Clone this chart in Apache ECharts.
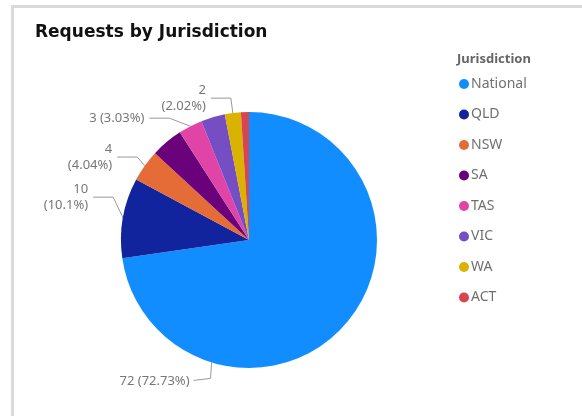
<!DOCTYPE html>
<html>
<head>
    <meta charset="utf-8">
    <script src="https://cdn.jsdelivr.net/npm/echarts@6/dist/echarts.min.js"></script>
    <style>
        html, body { margin: 0; padding: 0; background: #fff; }
        #main { width: 582px; height: 416px; }
    </style>
</head>
<body>
<div id="main"></div>
<script>
    // data
    var categories = ['National', 'QLD', 'NSW', 'SA', 'TAS', 'VIC', 'WA', 'ACT'];
    var counts = [72, 10, 4, 4, 3, 3, 2, 1];
    var colors = ['#118DFF', '#12239E', '#E66C37', '#6B007B', '#E044A7', '#744EC2', '#D9B300', '#D64550'];
    // which slices get a data label, and which ones wrap onto two lines
    var labelled = ['National', 'QLD', 'NSW', 'TAS', 'WA'];
    var wrapped = ['QLD', 'NSW', 'WA'];

    var total = 0;
    for (var i = 0; i < counts.length; i++) total += counts[i];

    var pieData = [];
    for (var k = 0; k < categories.length; k++) {
        pieData.push({
            name: categories[k],
            value: counts[k],
            itemStyle: { color: colors[k] },
            label: { show: labelled.indexOf(categories[k]) >= 0 },
            labelLine: { show: labelled.indexOf(categories[k]) >= 0 }
        });
    }

    var font = '"Noto Sans", "Open Sans", sans-serif';
    var CX = 249, CY = 240, R = 128;
    var myChart = echarts.init(document.getElementById('main'));

    // shift a label (and the end of its leader) by dy
    function lift(pts, dy) {
        return {
            dy: dy,
            labelLinePoints: [pts[0], [pts[1][0], pts[1][1] + dy], [pts[2][0], pts[2][1] + dy]]
        };
    }

    // power bi puts the big slice's label down at the bottom left,
    // and lifts a couple of the others; the rest keep echarts' layout
    function moveLabels(p) {
        var pts = p.labelLinePoints;
        if (!pts) return {};
        if (p.dataIndex === 0) {
            var a = 197 * Math.PI / 180;
            var ax = CX + R * Math.sin(a), ay = CY - R * Math.cos(a);
            return {
                x: ax - 22, y: ay + 19,
                align: 'right', verticalAlign: 'middle',
                labelLinePoints: [[ax, ay], [ax - 1, ay + 16], [ax - 18, ay + 18]]
            };
        }
        if (p.dataIndex === 1) return lift(pts, -18);
        if (p.dataIndex === 4) return lift(pts, -6);
        return {};
    }

    var option = {
        animation: false,
        title: [{
            text: 'Requests by Jurisdiction',
            left: 30,
            top: 19,
            textStyle: { fontFamily: '"DejaVu Sans", sans-serif', fontSize: 17, fontWeight: 'bold', color: '#111' }
        }, {
            text: 'Jurisdiction',
            left: 452,
            top: 48,
            textStyle: { fontFamily: font, fontSize: 13, fontWeight: 'bold', color: '#666' }
        }],
        legend: {
            orient: 'vertical',
            left: 454,
            top: 72,
            icon: 'circle',
            itemWidth: 10,
            itemHeight: 10,
            itemGap: 16.5,
            data: categories,
            textStyle: { fontFamily: font, fontSize: 14, lineHeight: 14, color: '#707070', padding: [0, 0, 0, -3] }
        },
        graphic: [{
            type: 'rect',
            shape: { x: 12.5, y: 6.5, width: 620, height: 460 },
            style: { fill: 'none', stroke: '#dadada', lineWidth: 3 },
            silent: true
        }],
        series: [{
            type: 'pie',
            center: [CX, CY],
            radius: R,
            startAngle: 90,
            clockwise: true,
            avoidLabelOverlap: true,
            label: {
                position: 'outside',
                fontFamily: font,
                fontSize: 13,
                lineHeight: 16,
                color: '#777',
                formatter: function (p) {
                    var pct = Number((p.value / total * 100).toFixed(2));
                    var sep = wrapped.indexOf(p.name) >= 0 ? '\n' : ' ';
                    return p.value + sep + '(' + pct + '%)';
                }
            },
            labelLine: {
                length: 15,
                length2: 20,
                lineStyle: { color: '#999', width: 1 }
            },
            labelLayout: moveLabels,
            data: pieData
        }]
    };

    myChart.setOption(option);
</script>
</body>
</html>
